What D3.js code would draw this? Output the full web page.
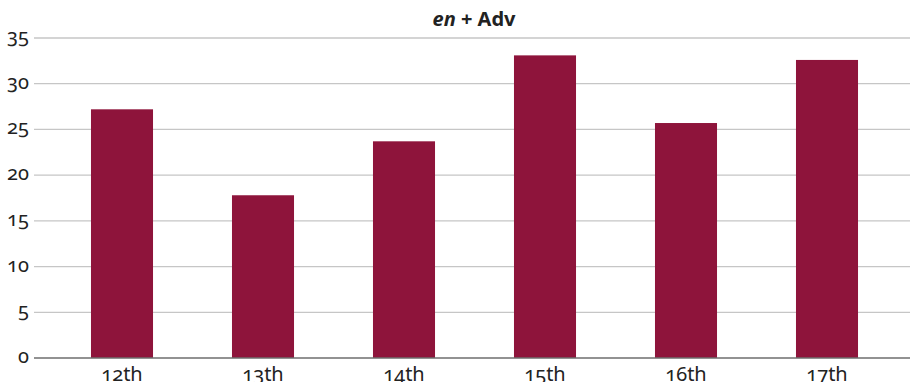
<!DOCTYPE html>
<html>
<head>
<meta charset="utf-8">
<script src="https://cdn.jsdelivr.net/npm/d3@7"></script>
<style>
  body { margin: 0; background: #fff; }
  svg text { font-family: "Noto Sans", "Open Sans", sans-serif; fill: #222; font-variant-numeric: oldstyle-nums; }
</style>
</head>
<body>
<div id="chart"></div>
<script>
(function(){

    // data
    const centuries = ["12th", "13th", "14th", "15th", "16th", "17th"];
    const counts = [27.2, 17.8, 23.7, 33.1, 25.7, 32.6];
    const yTicks = [0, 5, 10, 15, 20, 25, 30, 35];

    const width = 910, height = 382;
    const gridLeft = 34, gridRight = 910;

    const svg = d3.select("#chart")
        .append("svg")
        .attr("width", width)
        .attr("height", height);

    const x = d3.scaleBand()
        .domain(centuries)
        .range([51.5, 897.5])
        .paddingInner(0.56)
        .paddingOuter(0.28);

    const y = d3.scaleLinear()
        .domain([0, 35])
        .range([358, 38]);

    // gridlines
    svg.append("g")
        .selectAll("line")
        .data(yTicks.filter(d => d > 0))
        .enter()
        .append("line")
        .attr("x1", gridLeft)
        .attr("x2", gridRight)
        .attr("y1", d => y(d))
        .attr("y2", d => y(d))
        .attr("stroke", "#c6c6c6")
        .attr("stroke-width", 1.3);

    // y labels
    svg.append("g")
        .selectAll("text")
        .data(yTicks)
        .enter()
        .append("text")
        .attr("x", 29)
        .attr("y", d => y(d) + 5)
        .attr("text-anchor", "end")
        .attr("font-size", 20)
        .text(d => d);

    // bars
    svg.append("g")
        .selectAll("rect")
        .data(counts)
        .enter()
        .append("rect")
        .attr("x", (d, i) => x(centuries[i]))
        .attr("width", x.bandwidth())
        .attr("y", d => y(d))
        .attr("height", d => y(0) - y(d))
        .attr("fill", "#8e143b");

    // baseline
    svg.append("line")
        .attr("x1", gridLeft)
        .attr("x2", gridRight)
        .attr("y1", y(0))
        .attr("y2", y(0))
        .attr("stroke", "#6e6e6e")
        .attr("stroke-width", 1.3);

    // x labels
    svg.append("g")
        .selectAll("text")
        .data(centuries)
        .enter()
        .append("text")
        .attr("x", d => x(d) + x.bandwidth() / 2)
        .attr("y", 381)
        .attr("text-anchor", "middle")
        .attr("font-size", 20)
        .text(d => d);

    // title
    const title = svg.append("text")
        .attr("x", 474)
        .attr("y", 26)
        .attr("text-anchor", "middle")
        .attr("font-size", 20)
        .attr("font-weight", "bold");
    title.append("tspan").attr("font-style", "italic").text("en");
    title.append("tspan").text(" + Adv");

})();
</script>
</body>
</html>
